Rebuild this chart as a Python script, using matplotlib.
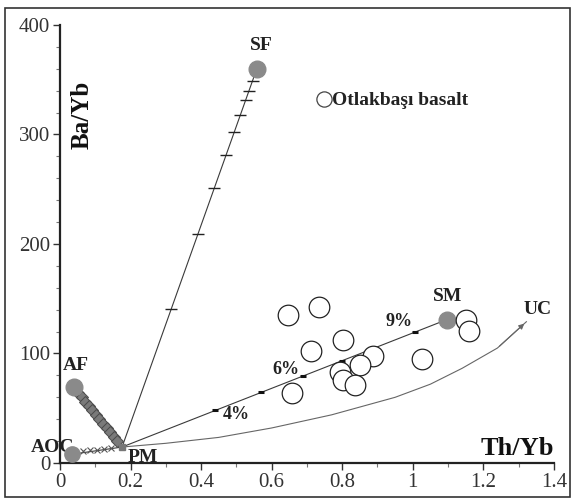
import matplotlib
matplotlib.use("Agg")
import matplotlib.pyplot as plt
from matplotlib.patches import Rectangle
from matplotlib.ticker import MultipleLocator

# basalt samples (Th/Yb, Ba/Yb)
basalt_th = [0.647, 0.734, 0.803, 0.711, 0.888, 0.850, 0.793, 0.803, 0.836, 0.659, 1.025, 1.150, 1.160]
basalt_ba = [135, 142.7, 112, 102, 98, 89.5, 83.4, 75.8, 71, 63.6, 95, 130.6, 120.8]

# end members
end_names = ["SF", "SM", "AF", "AOC"]
end_th = [0.558, 1.097, 0.040, 0.034]
end_ba = [360, 131, 69, 8]
pm_th, pm_ba = 0.176, 14.6

# mixing ticks
sf_tick_ba = [349, 340, 331, 318, 302, 281, 251, 209, 141]
sm_tick_th = [0.44, 0.57, 0.69, 0.80, 1.006]
af_chain_th = [0.052, 0.062, 0.072, 0.082, 0.092, 0.102, 0.112, 0.122, 0.132, 0.142, 0.152, 0.162]
af_chain_ba = [64, 60, 56, 52, 48, 44, 40, 36, 32, 28, 24, 20]
aoc_chain_th = [0.065, 0.085, 0.105, 0.125, 0.145]
aoc_chain_ba = [11, 11.5, 12, 12.5, 13.5]

# upper crust curve
uc_th = [0.176, 0.3, 0.45, 0.6, 0.77, 0.95, 1.05, 1.14, 1.24, 1.322]
uc_ba = [14.6, 18, 23.4, 32, 44, 60, 72, 86.5, 105, 129]

pct_labels = ["4%", "6%", "9%"]
pct_th = [0.50, 0.64, 0.96]
pct_ba = [44, 85, 129]

serif = "Liberation Serif"
line_col = "#3a3a3a"
grey = "#8a8a8a"

fig = plt.figure(figsize=(5.75, 4.99), dpi=100)
fig.patches.append(Rectangle((0.009, 0.004), 0.982, 0.98, transform=fig.transFigure,
                             fill=False, edgecolor="#333333", linewidth=1.2))
ax = fig.add_axes([0.1043, 0.0721, 0.859, 0.878])

# mixing lines
sf_x, sf_y = end_th[0], end_ba[0]
sm_x, sm_y = end_th[1], end_ba[1]
ax.plot([pm_th, sf_x], [pm_ba, sf_y], color=line_col, lw=0.8, zorder=2)
ax.plot([pm_th, sm_x], [pm_ba, sm_y], color=line_col, lw=0.8, zorder=2)
ax.plot([pm_th, end_th[2]], [pm_ba, end_ba[2]], color=line_col, lw=0.8, zorder=2)
ax.plot([pm_th, end_th[3]], [pm_ba, end_ba[3]], color=line_col, lw=0.8, zorder=2)

sf_tick_th = [pm_th + (b - pm_ba) / (sf_y - pm_ba) * (sf_x - pm_th) for b in sf_tick_ba]
ax.plot(sf_tick_th, sf_tick_ba, ls="none", marker="_", ms=9, mew=1.0, color="#222222", zorder=3)

sm_tick_ba = [pm_ba + (t - pm_th) / (sm_x - pm_th) * (sm_y - pm_ba) for t in sm_tick_th]
ax.plot(sm_tick_th, sm_tick_ba, ls="none", marker="_", ms=5, mew=2.2, color="#111111", zorder=3)

ax.plot(af_chain_th, af_chain_ba, ls="none", marker="D", ms=6, color="#7a7a7a",
        markeredgecolor="#4a4a4a", mew=0.7, zorder=3)
ax.plot(aoc_chain_th, aoc_chain_ba, ls="none", marker="x", ms=4, mew=0.8, color="#555555", zorder=3)

ax.annotate("", xy=(uc_th[-1], uc_ba[-1]), xytext=(uc_th[-2], uc_ba[-2]),
            arrowprops=dict(arrowstyle="-|>", color="#666666", lw=0.8, mutation_scale=8))
ax.plot(uc_th, uc_ba, color="#666666", lw=0.8, zorder=2)

# end-member markers
ax.plot(end_th[:3], end_ba[:3], ls="none", marker="o", ms=12, color=grey, mec=grey, zorder=4, clip_on=False)
ax.plot(end_th[3], end_ba[3], ls="none", marker="o", ms=11, color=grey, mec=grey, zorder=4, clip_on=False)
ax.plot(pm_th, pm_ba, ls="none", marker="s", ms=5, color="#777777", zorder=4)

# samples
ax.scatter(basalt_th, basalt_ba, s=220, facecolor="white", edgecolor="#222222", linewidth=0.9, zorder=5)

# labels
lab = dict(fontfamily=serif, fontweight="bold", fontsize=14, color="#222222")
ax.text(0.57, 381, "SF", ha="center", va="center", **lab)
ax.text(1.10, 152, "SM", ha="center", va="center", **lab)
ax.text(1.355, 140, "UC", ha="center", va="center", **lab)
ax.text(0.045, 89, "AF", ha="center", va="center", **lab)
ax.text(-0.02, 14, "AOC", ha="center", va="center", clip_on=False, **lab)
ax.text(0.235, 5, "PM", ha="center", va="center", **lab)
for t, x, y in zip(pct_labels, pct_th, pct_ba):
    ax.text(x, y, t, ha="center", va="center", fontfamily=serif, fontweight="bold", fontsize=13, color="#222222")

ax.text(0.062, 318, "Ba/Yb", rotation=90, ha="center", va="center",
        fontfamily=serif, fontweight="bold", fontsize=18, color="#111111")
ax.text(1.4, 13, "Th/Yb", ha="right", va="center",
        fontfamily=serif, fontweight="bold", fontsize=19, color="#111111")

# legend
ax.scatter([0.748], [332], s=120, facecolor="white", edgecolor="#444444", linewidth=0.9)
ax.text(0.772, 331, "Otlakbaşı basalt", ha="left", va="center",
        fontfamily=serif, fontweight="bold", fontsize=14, color="#222222")

ax.set_xlim(0, 1.4)
ax.set_ylim(0, 400)
ax.xaxis.set_major_locator(MultipleLocator(0.2))
ax.xaxis.set_minor_locator(MultipleLocator(0.1))
ax.yaxis.set_major_locator(MultipleLocator(100))
ax.yaxis.set_minor_locator(MultipleLocator(20))
ax.set_xticks([0, 0.2, 0.4, 0.6, 0.8, 1.0, 1.2, 1.4])
ax.set_xticklabels(["0", "0.2", "0.4", "0.6", "0.8", "1", "1.2", "1.4"])
for s in ["top", "right"]:
    ax.spines[s].set_visible(False)
for s in ["left", "bottom"]:
    ax.spines[s].set_linewidth(1.6)
    ax.spines[s].set_color("#222222")
ax.tick_params(which="major", length=5, width=1.0, colors="#333333", labelsize=15, pad=2)
ax.tick_params(which="minor", length=3, width=0.8, colors="#777777")
for lbl in ax.get_xticklabels() + ax.get_yticklabels():
    lbl.set_fontfamily(serif)
    lbl.set_color("#333333")

fig.savefig("out.png", dpi=100, facecolor="white")
